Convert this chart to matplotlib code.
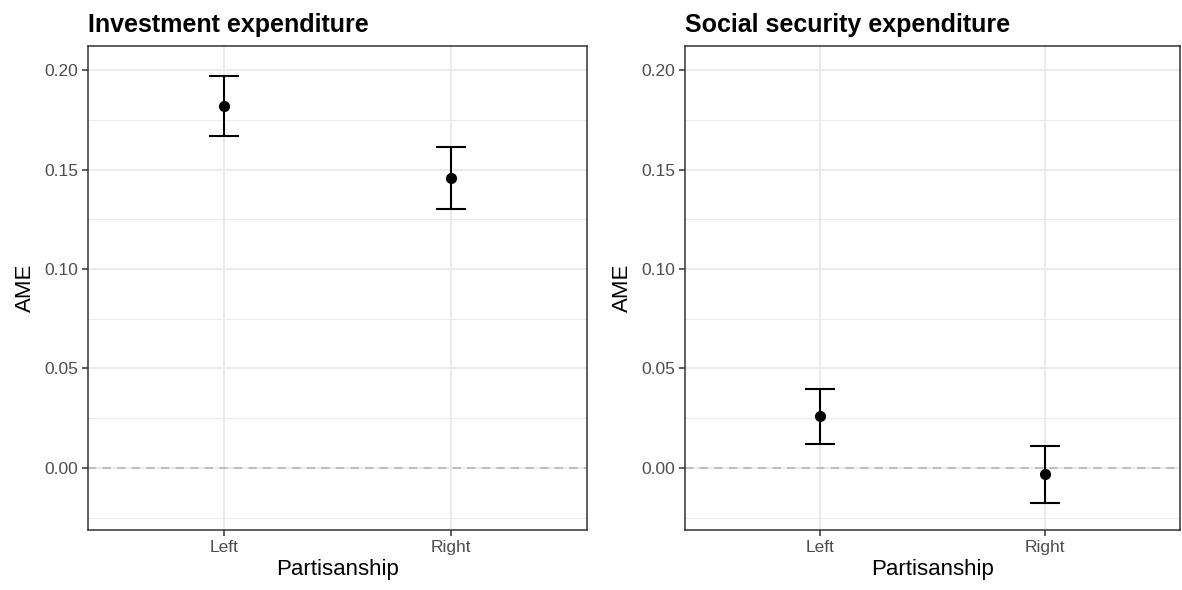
import matplotlib
matplotlib.use("Agg")
import matplotlib.pyplot as plt
from matplotlib.ticker import MultipleLocator, FormatStrFormatter

plt.rcParams['font.family'] = ['Liberation Sans', 'DejaVu Sans']

# data
categories = ["Left", "Right"]
titles = ["Investment expenditure", "Social security expenditure"]
inv_ame = [0.1821, 0.1456]
inv_low = [0.1670, 0.1300]
inv_high = [0.1971, 0.1612]
soc_ame = [0.0261, -0.0032]
soc_low = [0.0122, -0.0174]
soc_high = [0.0399, 0.0111]

panels = [
    (inv_ame, inv_low, inv_high),
    (soc_ame, soc_low, soc_high),
]

fig = plt.figure(figsize=(11.82, 5.90), dpi=100)
W, H = 1182, 590
boxes = [(88, 46, 587, 530), (685, 46, 1180, 530)]

for (x0, y0, x1, y1), title, (ame, low, high) in zip(boxes, titles, panels):
    ax = fig.add_axes([x0 / W, 1 - y1 / H, (x1 - x0) / W, (y1 - y0) / H])
    xs = list(range(1, len(categories) + 1))
    err = [[a - l for a, l in zip(ame, low)], [h - a for a, h in zip(ame, high)]]

    # reference line at zero
    ax.axhline(0, color='#BEBEBE', linestyle=(0, (4, 3)), linewidth=1.5, zorder=2)
    ax.errorbar(xs, ame, yerr=err, fmt='o', color='black', markersize=7,
                elinewidth=1.5, capsize=11, capthick=1.5, zorder=3)

    ax.set_xlim(0.4, 2.6)
    ax.set_ylim(-0.0312, 0.2121)
    ax.set_xticks(xs)
    ax.set_xticklabels(categories)
    ax.yaxis.set_major_locator(MultipleLocator(0.05))
    ax.yaxis.set_minor_locator(MultipleLocator(0.025))
    ax.yaxis.set_major_formatter(FormatStrFormatter('%.2f'))

    ax.grid(True, which='major', color='#EBEBEB', linewidth=1.4, zorder=0)
    ax.grid(True, which='minor', axis='y', color='#EBEBEB', linewidth=0.7, zorder=0)
    ax.set_axisbelow(True)

    for s in ax.spines.values():
        s.set_color('#333333')
        s.set_linewidth(1.1)
    ax.tick_params(which='major', length=4, width=1.1, color='#333333',
                   labelsize=12.5, labelcolor='#4D4D4D', pad=3)
    ax.tick_params(which='minor', length=0)

    ax.set_xlabel("Partisanship", fontsize=16, color='black', labelpad=3)
    ax.set_ylabel("AME", fontsize=16, color='black', labelpad=6)
    ax.set_title(title, fontsize=18, fontweight='bold', loc='left', pad=10)

fig.savefig("out.png", dpi=100)
